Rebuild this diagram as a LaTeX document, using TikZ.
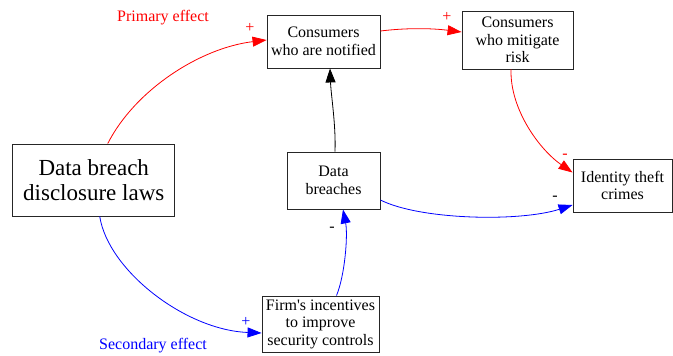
\documentclass[tikz,border=0pt]{standalone}
\usepackage{fontspec}
\setmainfont{Liberation Serif}[Ligatures=TeXOff]
\usetikzlibrary{arrows.meta,calc}
\definecolor{gvred}{RGB}{255,0,0}
\definecolor{gvblue}{RGB}{0,0,255}
\begin{document}
\begin{tikzpicture}[x=1pt,y=-1pt,
  box/.style={draw=black!85, line width=0.9pt, inner sep=0pt, align=center,
    font=\rmfamily\fontsize{16}{17.5}\selectfont},
  bigbox/.style={box, font=\rmfamily\fontsize{23}{24.5}\selectfont},
  lbl/.style={inner sep=0pt, font=\rmfamily\fontsize{16}{17.5}\selectfont},
  edge/.style={line width=0.8pt, -{Triangle[length=14pt,width=10pt]}},
]
\useasboundingbox (0,0) rectangle (673,356);
\node[bigbox, minimum width=162pt, minimum height=72pt] (laws) at (93.75,180) {Data breach\\disclosure laws};
\node[box, minimum width=113pt, minimum height=53pt] (notified) at (323.5,41.5) {Consumers\\who are notified};
\node[box, minimum width=111pt, minimum height=58pt] (mitigate) at (517.5,40) {Consumers\\who mitigate\\risk};
\node[box, minimum width=93pt, minimum height=57pt] (breaches) at (333.5,180.5) {Data\\breaches};
\node[box, minimum width=99pt, minimum height=53pt] (theft) at (622.5,185.5) {Identity theft\\crimes};
\node[box, minimum width=117pt, minimum height=56pt] (firm) at (320.5,324) {Firm's incentives\\to improve\\security controls};

\coordinate (e1s) at ($(laws.north)+(14,0)$);
\coordinate (e1e) at ($(notified.west)+(0,-1.5)$);
\draw[edge, gvred] (e1s) .. controls (135,90) and (200,48) .. (e1e);

\coordinate (e2s) at ($(notified.east)+(0,-10.5)$);
\coordinate (e2e) at ($(mitigate.west)+(0,-8)$);
\draw[edge, gvred] (e2s) .. controls (405,28) and (430,28) .. (e2e);

\coordinate (e3s) at ($(mitigate.south)+(-6.5,0)$);
\coordinate (e3e) at ($(theft.west)+(0,-13)$);
\draw[edge, gvred] (e3s) .. controls (510,110) and (540,150) .. (e3e);

\coordinate (e4s) at ($(breaches.north)+(1.5,0)$);
\coordinate (e4e) at ($(notified.south)+(6.5,0)$);
\draw[edge, black] (e4s) .. controls (336,125) and (331,95) .. (e4e);

\coordinate (e5s) at ($(breaches.east)+(0,19.5)$);
\coordinate (e5e) at ($(theft.west)+(0,19.5)$);
\draw[edge, gvblue] (e5s) .. controls (420,220) and (520,222) .. (e5e);

\coordinate (e6s) at ($(firm.north)+(16,0)$);
\coordinate (e6e) at ($(breaches.south)+(9.5,0)$);
\draw[edge, gvblue] (e6s) .. controls (345,275) and (348,235) .. (e6e);

\coordinate (e7s) at ($(laws.south)+(6,0)$);
\coordinate (e7e) at ($(firm.west)+(0,9)$);
\draw[edge, gvblue] (e7s) .. controls (108,270) and (185,330) .. (e7e);

\node[lbl, text=gvred] (primary) at (163,18) {Primary effect};
\node[lbl, text=gvred] (p1) at (250,28) {+};
\node[lbl, text=gvred] (p2) at (447,17) {+};
\node[lbl, text=gvred] (m1) at (565,156) {-};
\node[lbl, text=black] (m2) at (555,198) {-};
\node[lbl, text=black] (m3) at (332,229) {-};
\node[lbl, text=gvblue] (p3) at (246,322) {+};
\node[lbl, text=gvblue] (secondary) at (153,346) {Secondary effect};
\end{tikzpicture}
\end{document}
